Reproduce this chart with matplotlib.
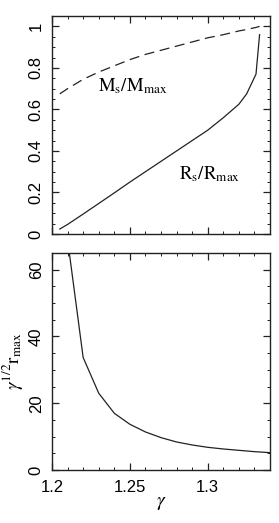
import matplotlib
matplotlib.use('Agg')
import matplotlib.pyplot as plt
from matplotlib.ticker import MultipleLocator, FormatStrFormatter

plt.rcParams['font.family'] = ['Liberation Sans', 'DejaVu Sans']
plt.rcParams['mathtext.fontset'] = 'stix'

# values
gamma = [1.205, 1.21, 1.22, 1.23, 1.24, 1.25, 1.26, 1.27, 1.28, 1.29,
         1.30, 1.31, 1.32, 1.325, 1.331, 1.3333]
ms_mmax = [0.675, 0.70, 0.745, 0.78, 0.81, 0.84, 0.865, 0.885, 0.905, 0.925,
           0.945, 0.96, 0.978, 0.985, 0.995, 1.0]
rs_rmax = [0.024, 0.046, 0.096, 0.147, 0.198, 0.25, 0.30, 0.35, 0.40, 0.45,
           0.50, 0.56, 0.625, 0.675, 0.77, 0.96]

gamma2 = [1.21, 1.22, 1.23, 1.24, 1.25, 1.26, 1.27, 1.28, 1.29, 1.30,
          1.31, 1.32, 1.33, 1.34]
r_max = [69, 33.7, 23.0, 17.0, 13.7, 11.4, 9.7, 8.4, 7.5, 6.8,
         6.3, 5.9, 5.5, 5.2]

fig = plt.figure(figsize=(2.79, 5.23), dpi=100)
ax1 = fig.add_axes([0.1864, 0.5526, 0.7814, 0.4168])
ax2 = fig.add_axes([0.1864, 0.1013, 0.7814, 0.4150])

ax1.plot(gamma, ms_mmax, color='#222222', lw=0.9, ls=(0, (8, 4.5)))
ax1.plot(gamma, rs_rmax, color='#222222', lw=0.9)
ax1.text(1.252, 0.71, r'$\mathrm{M_s/M_{max}}$', fontsize=13.5, ha='center', va='center')
ax1.text(1.301, 0.29, r'$\mathrm{R_s/R_{max}}$', fontsize=13.5, ha='center', va='center')
ax1.set_xlim(1.2, 1.34)
ax1.set_ylim(0, 1.05)
ax1.yaxis.set_major_locator(MultipleLocator(0.2))
ax1.yaxis.set_minor_locator(MultipleLocator(0.05))
ax1.tick_params(labelbottom=False)

ax2.plot(gamma2, r_max, color='#222222', lw=0.9)
ax2.set_xlim(1.2, 1.34)
ax2.set_ylim(0, 65)
ax2.yaxis.set_major_locator(MultipleLocator(20))
ax2.yaxis.set_minor_locator(MultipleLocator(5))
ax2.set_xlabel(r'$\gamma$', fontsize=14, labelpad=0)
ax2.set_ylabel(r'$\gamma^{1/2}\mathrm{r_{max}}$', fontsize=13.5, labelpad=3)

for ax in (ax1, ax2):
    ax.xaxis.set_major_locator(MultipleLocator(0.05))
    ax.xaxis.set_minor_locator(MultipleLocator(0.01))
    ax.xaxis.set_major_formatter(FormatStrFormatter('%g'))
    ax.yaxis.set_major_formatter(FormatStrFormatter('%g'))
    ax.tick_params(which='both', direction='in', top=True, right=True,
                   color='#222222', labelsize=12)
    ax.tick_params(which='major', length=5, width=0.9)
    ax.tick_params(which='minor', length=2.5, width=0.7)
    ax.tick_params(axis='y', labelrotation=90, pad=6)
    ax.tick_params(axis='x', pad=7)
    for lab in ax.get_yticklabels():
        lab.set_va('center')
    for s in ax.spines.values():
        s.set_linewidth(1.0)
        s.set_color('#222222')

fig.savefig('out.png', dpi=100)
